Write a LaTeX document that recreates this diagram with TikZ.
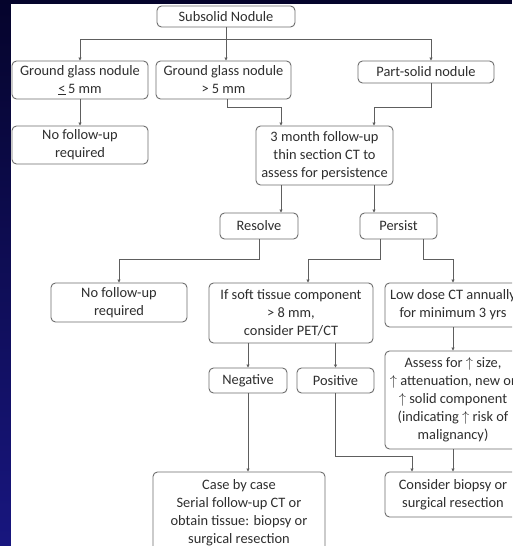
\documentclass[tikz,border=0pt]{standalone}
\usepackage{fontspec}
\setmainfont{Carlito}
\usetikzlibrary{arrows.meta,calc}
\definecolor{navyA}{HTML}{05042C}
\definecolor{navyB}{HTML}{18167F}
\definecolor{boxline}{HTML}{6E6E6E}
\definecolor{txt}{HTML}{2E2E2E}
\definecolor{conn}{HTML}{5E5E5E}
\begin{document}
\begin{tikzpicture}[x=1pt,y=-1pt,
  box/.style={draw=boxline,line width=0.9pt,rounded corners=4.5pt,fill=white,text=txt,align=center,inner sep=0pt,font=\fontsize{14.4}{18}\selectfont},
  bx/.style 2 args={box,minimum width=#1pt,minimum height=#2pt},
  arr/.style={draw=conn,line width=0.8pt,-{Triangle[length=3pt,width=3pt]}}]
\useasboundingbox (0,0) rectangle (512,546);
\clip (0,0) rectangle (512,546);
% background
\fill[navyA] (0,0) rectangle (512,4);
\shade[top color=navyA,bottom color=navyB] (0,0) rectangle (11,546);
\fill[white] (11,4) rectangle (512,546);
% nodes
\node[bx={138}{21}] (sub) at (226,16.5) {Subsolid Nodule};
\node[bx={136}{38}] (g1) at (80,80) {Ground glass nodule\\\underline{<}\,5 mm};
\node[bx={135}{38}] (g2) at (223.5,80) {Ground glass nodule\\> 5 mm};
\node[bx={136}{22}] (ps) at (426,72) {Part-solid nodule};
\node[bx={136}{38}] (nf1) at (80,145) {No follow-up\\required};
\node[bx={137}{59}] (m3) at (324.5,155.5) {3 month follow-up\\thin section CT to\\assess for persistence};
\node[bx={78}{26}] (res) at (259,226) {Resolve};
\node[bx={77}{26}] (per) at (398.5,226) {Persist};
\node[bx={136}{39}] (nf2) at (119,302.5) {No follow-up\\required};
\node[bx={164}{60}] (soft) at (291,313) {If soft tissue component\\> 8 mm,\\consider PET/CT};
\node[bx={136}{44}] (low) at (453,305) {Low dose CT annually\\for minimum 3 yrs};
\node[bx={136}{98}] (ass) at (453,400) {Assess for $\uparrow$ size,\\$\uparrow$ attenuation, new or\\$\uparrow$ solid component\\(indicating $\uparrow$ risk of\\malignancy)};
\node[bx={78}{25}] (neg) at (248,380.5) {Negative};
\node[bx={77}{25}] (pos) at (335.5,380.5) {Positive};
\node[bx={172}{82}] (case) at (239,513) {Case by case\\Serial follow-up CT or\\obtain tissue: biopsy or\\surgical resection};
\node[bx={136}{45}] (cons) at (453,494.5) {Consider biopsy or\\surgical resection};
% connectors
\coordinate (j1) at ($(sub.south)+(0,12)$);
\draw[arr] (sub.south) -- (sub.south |- g2.north);
\draw[arr] (j1) -| (g1.north);
\draw[arr] (j1) -| ($(ps.north)+(5,0)$);
\draw[arr] (g1) -- (nf1);
\draw[arr] ($(g2.south)+(3.5,0)$) -- ++(0,8) -| ($(m3.north)+(-43.5,0)$);
\draw[arr] ($(ps.south)+(5,0)$) -- ++(0,24) -| ($(m3.north)+(49.5,0)$);
\coordinate (m3l) at ($(m3.south)+(-43.5,0)$);
\coordinate (m3r) at ($(m3.south)+(49.5,0)$);
\draw[arr] (m3l) -- (m3l |- res.north);
\draw[arr] (m3r) -- (m3r |- per.north);
\draw[arr] (res.south) -- ++(0,20) -| (nf2.north);
\draw[arr] ($(per.south)+(-18.5,0)$) -- ++(0,20) -| ($(soft.north)+(17,0)$);
\draw[arr] ($(per.south)+(24.5,0)$) -- ++(0,20) -| (low.north);
\draw[arr] (low) -- (ass);
\draw[arr] (neg.north |- soft.south) -- (neg.north);
\draw[arr] (pos.north |- soft.south) -- (pos.north);
\draw[arr] (neg.south) -- (neg.south |- case.north);
\draw[arr] (pos.south) -- ++(0,63) -| ($(cons.north)+(-41,0)$);
\draw[arr] (ass) -- (cons);
\end{tikzpicture}
\end{document}
